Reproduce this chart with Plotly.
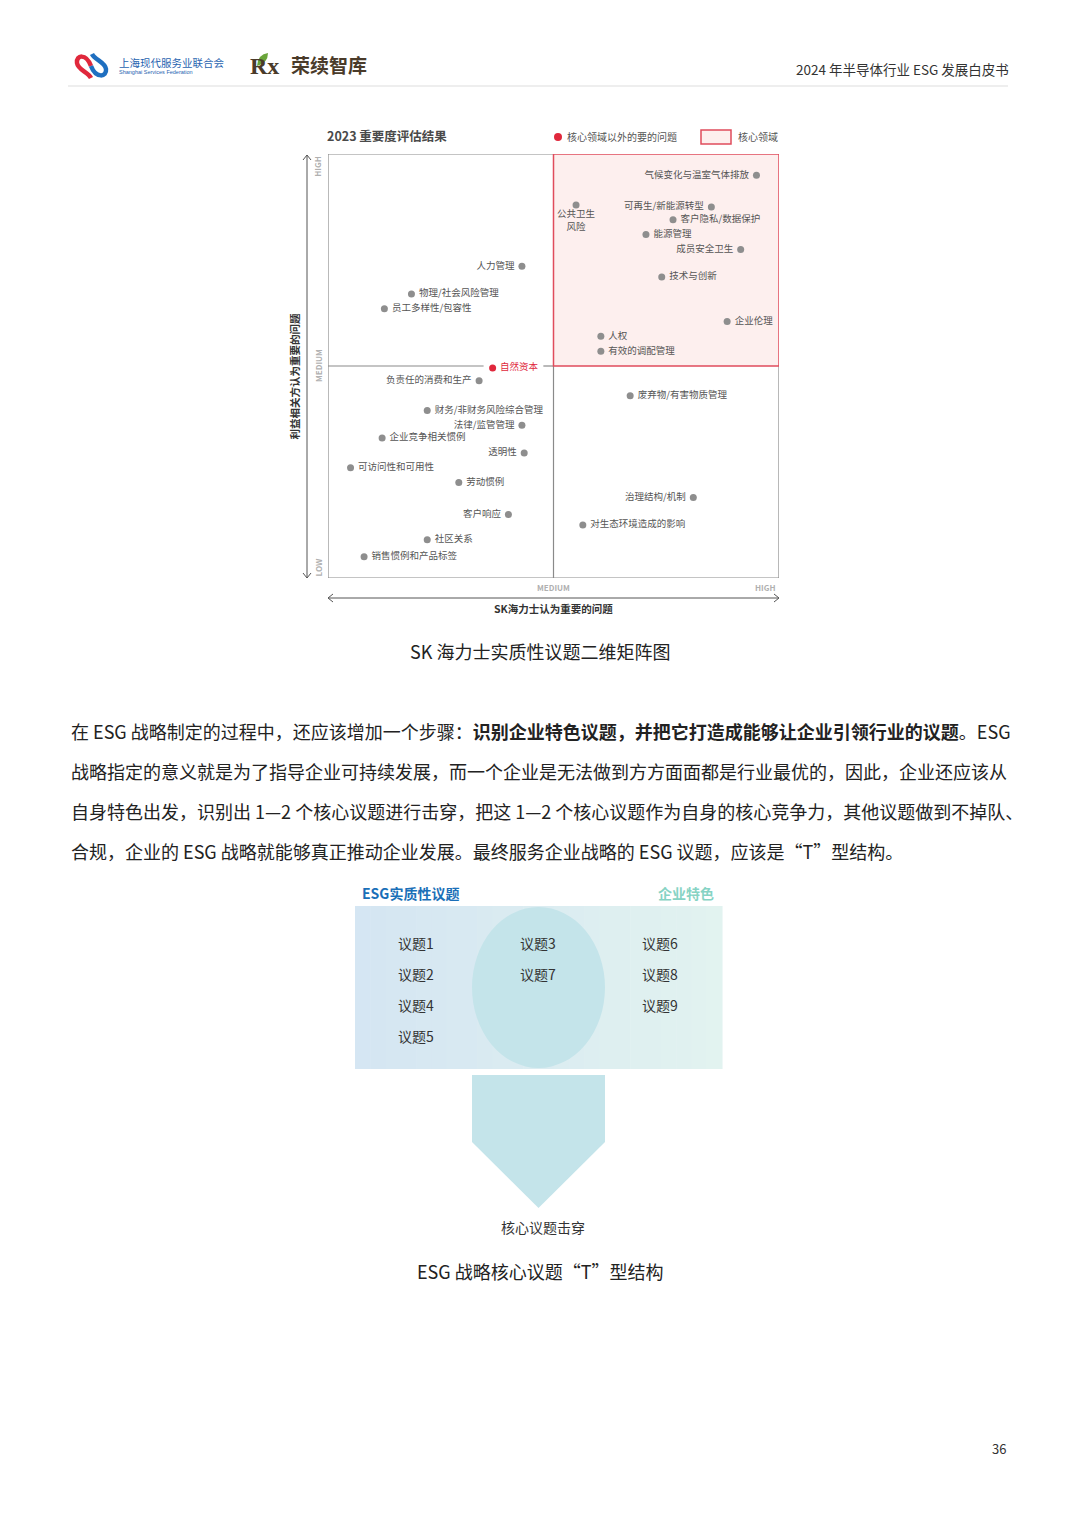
import plotly.graph_objects as go

W, H = 1080, 1528
FONT = "Noto Sans CJK SC"


def px(x):
    return x / W


def py(y):
    return 1 - y / H


# ---------------- data ----------------
topics = [
    "气候变化与温室气体排放", "公共卫生<br>风险", "可再生/新能源转型", "客户隐私/数据保护",
    "能源管理", "成员安全卫生", "技术与创新", "企业伦理", "人权", "有效的调配管理",
    "人力管理", "物理/社会风险管理", "员工多样性/包容性", "自然资本",
    "负责任的消费和生产", "财务/非财务风险综合管理", "法律/监管管理", "企业竞争相关惯例",
    "透明性", "可访问性和可用性", "劳动惯例", "客户响应", "社区关系", "销售惯例和产品标签",
    "废弃物/有害物质管理", "治理结构/机制", "对生态环境造成的影响",
]
sk_importance = [
    1.90, 1.10, 1.70, 1.53, 1.41, 1.83, 1.48, 1.77, 1.21, 1.21,
    0.86, 0.37, 0.25, 0.73, 0.67, 0.44, 0.86, 0.24, 0.87, 0.10,
    0.58, 0.80, 0.44, 0.16, 1.34, 1.62, 1.13,
]
stakeholder_importance = [
    1.90, 1.76, 1.75, 1.69, 1.62, 1.55, 1.42, 1.21, 1.14, 1.07,
    1.47, 1.34, 1.27, 0.99, 0.93, 0.79, 0.72, 0.66, 0.59, 0.52,
    0.45, 0.30, 0.18, 0.10, 0.86, 0.38, 0.25,
]
outside_core = ["自然资本"]
axis_levels = ["LOW", "MEDIUM", "HIGH"]
venn_left = ["议题1", "议题2", "议题4", "议题5"]
venn_mid = ["议题3", "议题7"]
venn_right = ["议题6", "议题8", "议题9"]

# label placement (style)
label_pos = [
    "middle left", "bottom center", "middle left", "middle right",
    "middle right", "middle left", "middle right", "middle right", "middle right", "middle right",
    "middle left", "middle right", "middle right", "middle right",
    "middle left", "middle right", "middle left", "middle right",
    "middle left", "middle right", "middle right", "middle left", "middle right", "middle right",
    "middle right", "middle left", "middle right",
]

GRAY_DOT = "#8e8e8e"
RED = "#e0283c"
colors = [RED if t in outside_core else GRAY_DOT for t in topics]
tcolors = [RED if t in outside_core else "#555555" for t in topics]
display_text = [" " + t + " " if p != "bottom center" else t for t, p in zip(topics, label_pos)]

fig = go.Figure()
fig.add_trace(go.Scatter(
    x=sk_importance, y=stakeholder_importance, mode="markers+text",
    text=display_text, textposition=label_pos,
    textfont=dict(family=FONT, size=9.5, color=tcolors),
    marker=dict(size=7, color=colors),
    cliponaxis=False, hoverinfo="skip", showlegend=False,
))

shapes = []
ann = []


def A(x, y, text, size, color, xanchor="center", yanchor="middle", xref="paper", yref="paper",
      family=FONT, **kw):
    ann.append(dict(xref=xref, yref=yref, x=x, y=y, text=text, showarrow=False,
                    xanchor=xanchor, yanchor=yanchor,
                    font=dict(family=family, size=size, color=color), **kw))


GRID = "#8a8a8a"
# matrix frame
shapes.append(dict(type="rect", xref="x", yref="y", x0=0, x1=2, y0=0, y1=2,
                   line=dict(color=GRID, width=1.2), layer="below"))
shapes.append(dict(type="line", xref="x", yref="y", x0=1, x1=1, y0=0, y1=1,
                   line=dict(color=GRID, width=1.2), layer="below"))
shapes.append(dict(type="line", xref="x", yref="y", x0=0, x1=0.69, y0=1, y1=1,
                   line=dict(color=GRID, width=1.2), layer="below"))
shapes.append(dict(type="line", xref="x", yref="y", x0=0.955, x1=1, y0=1, y1=1,
                   line=dict(color=GRID, width=1.2), layer="below"))
shapes.append(dict(type="rect", xref="x", yref="y", x0=1, x1=2, y0=1, y1=2,
                   fillcolor="#fdefee", line=dict(color="#e04c5c", width=1.5), layer="below"))

# vertical double arrow
AX = "#555555"
shapes.append(dict(type="line", xref="paper", yref="paper", x0=px(307), x1=px(307),
                   y0=py(155), y1=py(578), line=dict(color=AX, width=1)))
shapes.append(dict(type="path", xref="paper", yref="paper",
                   path=f"M {px(303)},{py(160)} L {px(307)},{py(155)} L {px(311)},{py(160)}",
                   line=dict(color=AX, width=1)))
shapes.append(dict(type="path", xref="paper", yref="paper",
                   path=f"M {px(303)},{py(573)} L {px(307)},{py(578)} L {px(311)},{py(573)}",
                   line=dict(color=AX, width=1)))
# horizontal double arrow
shapes.append(dict(type="line", xref="paper", yref="paper", x0=px(328), x1=px(779),
                   y0=py(598), y1=py(598), line=dict(color=AX, width=1)))
shapes.append(dict(type="path", xref="paper", yref="paper",
                   path=f"M {px(333)},{py(594)} L {px(328)},{py(598)} L {px(333)},{py(602)}",
                   line=dict(color=AX, width=1)))
shapes.append(dict(type="path", xref="paper", yref="paper",
                   path=f"M {px(774)},{py(594)} L {px(779)},{py(598)} L {px(774)},{py(602)}",
                   line=dict(color=AX, width=1)))

LVL = "#b0b0b0"
for lvl, yv in zip(axis_levels, [0.05, 1.0, 1.94]):
    A(px(318), yv, "<b>" + lvl + "</b>", 8, LVL, yref="y", textangle=-90)
A(1, py(587), "<b>" + axis_levels[1] + "</b>", 8, LVL, xref="x")
A(1.94, py(587), "<b>" + axis_levels[2] + "</b>", 8, LVL, xref="x")
A(px(295), 0.95, "<b>利益相关方认为重要的问题</b>", 10.5, "#333", yref="y", textangle=-90)
A(1, py(608), "<b>SK海力士认为重要的问题</b>", 10.5, "#333", xref="x")

# chart title + legend
A(px(325), py(135), "<b>2023 重要度评估结果</b>", 12.5, "#4a4a4a", xanchor="left")
shapes.append(dict(type="circle", xref="paper", yref="paper", x0=px(554), x1=px(562),
                   y0=py(141), y1=py(133), fillcolor=RED, line=dict(width=0)))
A(px(565), py(137), "核心领域以外的要的问题", 10, "#555", xanchor="left")
shapes.append(dict(type="rect", xref="paper", yref="paper", x0=px(701), x1=px(731),
                   y0=py(144), y1=py(130), fillcolor="#fdefee", line=dict(color="#e04c5c", width=1.5)))
A(px(736), py(137), "核心领域", 10, "#555", xanchor="left")

A(px(540), py(651), "SK 海力士实质性议题二维矩阵图", 18, "#222")

# header
shapes.append(dict(type="line", xref="paper", yref="paper", x0=px(68), x1=px(1008),
                   y0=py(86), y1=py(86), line=dict(color="#dddddd", width=1)))
shapes.append(dict(type="path", xref="paper", yref="paper",
                   path=(f"M {px(91)},{py(66)} C {px(86)},{py(53)} {px(76)},{py(55)} {px(77)},{py(63)} "
                         f"C {px(78)},{py(70)} {px(88)},{py(72)} {px(91)},{py(78)}"),
                   line=dict(color="#e0283c", width=4.5)))
shapes.append(dict(type="path", xref="paper", yref="paper",
                   path=(f"M {px(91)},{py(66)} C {px(96)},{py(79)} {px(107)},{py(77)} {px(106)},{py(69)} "
                         f"C {px(105)},{py(62)} {px(95)},{py(60)} {px(92)},{py(54)}"),
                   line=dict(color="#1f6fc0", width=4.5)))
A(px(117), py(62), "上海现代服务业联合会", 10.5, "#2863b0", xanchor="left")
A(px(117), py(72.5), "Shanghai Services Federation", 5.5, "#2863b0", xanchor="left",
  family="Liberation Sans")
shapes.append(dict(type="path", xref="paper", yref="paper",
                   path=(f"M {px(257)},{py(66)} Q {px(258)},{py(54)} {px(268)},{py(53)} "
                         f"Q {px(268)},{py(63)} {px(257)},{py(66)} Z"),
                   fillcolor="#6aa53a", line=dict(width=0)))
A(px(248), py(66), "<b>Rx</b>", 24, "#4a3b2a", xanchor="left", family="Liberation Serif")
A(px(289), py(65), "<b>荣续智库</b>", 19, "#4a3b2a", xanchor="left")
A(px(1011), py(69), "2024 年半导体行业 ESG 发展白皮书", 13.5, "#333", xanchor="right")

# paragraph
lines = [
    "在 ESG 战略制定的过程中，还应该增加一个步骤：<b>识别企业特色议题，并把它打造成能够让企业引领行业的议题</b>。ESG",
    "战略指定的意义就是为了指导企业可持续发展，而一个企业是无法做到方方面面都是行业最优的，因此，企业还应该从",
    "自身特色出发，识别出 1—2 个核心议题进行击穿，把这 1—2 个核心议题作为自身的核心竞争力，其他议题做到不掉队、",
    "合规，企业的 ESG 战略就能够真正推动企业发展。最终服务企业战略的 ESG 议题，应该是“T”型结构。",
]
for i, ln in enumerate(lines):
    A(px(69), py(731 + 40 * i), ln, 18, "#222", xanchor="left")

# Venn / T diagram
L, R, T, B = 355, 722, 906, 1069
n = 24
c0 = (213, 230, 243)
c1 = (226, 243, 240)
for k in range(n):
    f = k / (n - 1)
    c = tuple(int(c0[j] + (c1[j] - c0[j]) * f) for j in range(3))
    x0 = L + (R - L) * k / n
    x1 = L + (R - L) * (k + 1) / n
    shapes.append(dict(type="rect", xref="paper", yref="paper", x0=px(x0), x1=px(x1) + 0.0005,
                       y0=py(B), y1=py(T), fillcolor=f"rgb{c}", line=dict(width=0), layer="below"))
shapes.append(dict(type="circle", xref="paper", yref="paper", x0=px(472), x1=px(605),
                   y0=py(1068), y1=py(907), fillcolor="#c4e4ea", line=dict(width=0), layer="below"))
shapes.append(dict(type="path", xref="paper", yref="paper",
                   path=(f"M {px(472)},{py(1075)} L {px(605)},{py(1075)} L {px(605)},{py(1142)} "
                         f"L {px(538.5)},{py(1208)} L {px(472)},{py(1142)} Z"),
                   fillcolor="#c4e4ea", line=dict(width=0), layer="below"))
A(px(360), py(893), "<b>ESG实质性议题</b>", 14, "#1a6fb8", xanchor="left")
A(px(716), py(893), "<b>企业特色</b>", 14, "#86d3c4", xanchor="right")
for col, cx in [(venn_left, 416), (venn_mid, 538), (venn_right, 660)]:
    for i, t in enumerate(col):
        A(px(cx), py(943 + 31 * i), t, 14, "#333")
A(px(543), py(1227), "核心议题击穿", 14, "#333")
A(px(540), py(1271), "ESG 战略核心议题“T”型结构", 18, "#222")
A(px(999), py(1448), "36", 13, "#333")

fig.update_layout(
    width=W, height=H, margin=dict(l=0, r=0, t=0, b=0),
    paper_bgcolor="white", plot_bgcolor="rgba(0,0,0,0)",
    xaxis=dict(range=[0, 2], domain=[px(328), px(779)], visible=False, fixedrange=True),
    yaxis=dict(range=[0, 2], domain=[py(578), py(154)], visible=False, fixedrange=True),
    shapes=shapes, annotations=ann, showlegend=False,
    font=dict(family=FONT),
)
fig.write_html("out.html", config={"displayModeBar": False},
               post_script="document.body.style.margin='0';document.body.style.overflow='hidden';")
